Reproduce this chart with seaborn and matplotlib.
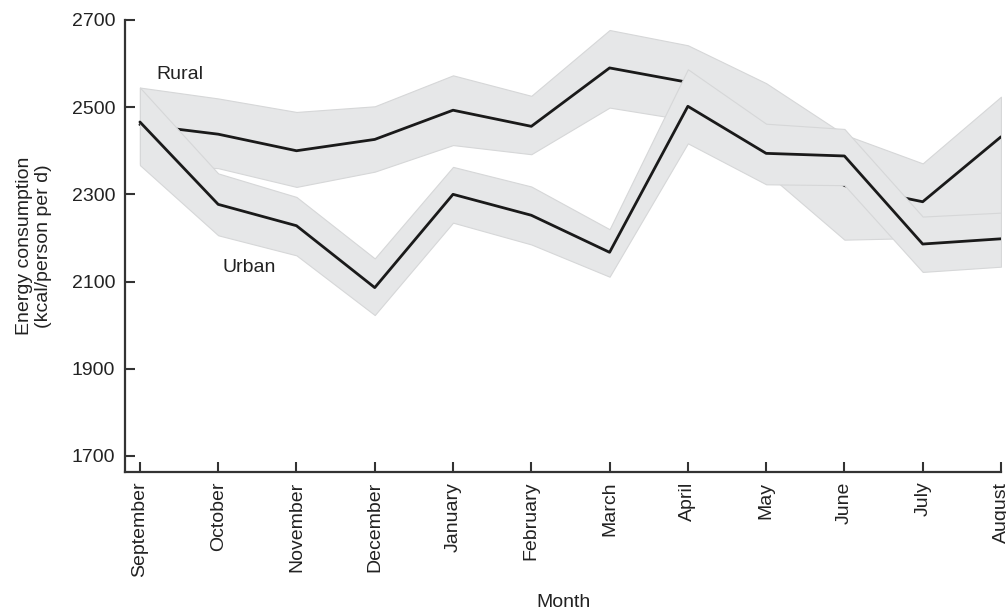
import numpy as np
import pandas as pd
import seaborn as sns
import matplotlib
matplotlib.use("Agg")
import matplotlib.pyplot as plt

# ============================================================
# DATA
# ============================================================
months = ["September", "October", "November", "December", "January", "February",
          "March", "April", "May", "June", "July", "August"]

rural_mean = [2460, 2438, 2400, 2426, 2493, 2456, 2590, 2557, 2452, 2320, 2283, 2432]
rural_upper = [2545, 2520, 2489, 2502, 2573, 2526, 2677, 2642, 2555, 2437, 2371, 2524]
rural_lower = [2370, 2360, 2317, 2352, 2413, 2392, 2499, 2470, 2350, 2196, 2200, 2250]

urban_mean = [2466, 2277, 2228, 2086, 2300, 2252, 2167, 2502, 2394, 2388, 2186, 2198]
urban_upper = [2545, 2348, 2294, 2153, 2363, 2318, 2220, 2587, 2462, 2450, 2249, 2258]
urban_lower = [2367, 2206, 2160, 2023, 2235, 2185, 2111, 2417, 2323, 2321, 2122, 2134]

y_ticks = [1700, 1900, 2100, 2300, 2500, 2700]

# ============================================================
# STYLE
# ============================================================
sns.set_style("white")
plt.rcParams["font.family"] = ["Liberation Sans", "DejaVu Sans"]
plt.rcParams["font.size"] = 14

band_color = "#e6e7e8"
band_edge = "#d6d7d8"
line_color = "#1a1a1a"

df = pd.DataFrame({
    "x": np.arange(len(months)),
    "Month": months,
    "rural": rural_mean, "rural_lo": rural_lower, "rural_hi": rural_upper,
    "urban": urban_mean, "urban_lo": urban_lower, "urban_hi": urban_upper,
})

# ============================================================
# PLOT
# ============================================================
fig = plt.figure(figsize=(10.06, 6.11), dpi=100)
ax = fig.add_axes([0.1243, 0.2275, 0.8707, 0.7398])

# rural first, urban drawn on top
ax.fill_between(df["x"], df["rural_lo"], df["rural_hi"], facecolor=band_color,
                edgecolor=band_edge, linewidth=0.8, zorder=1)
sns.lineplot(data=df, x="x", y="rural", color=line_color, linewidth=2.0, ax=ax, zorder=2)
ax.fill_between(df["x"], df["urban_lo"], df["urban_hi"], facecolor=band_color,
                edgecolor=band_edge, linewidth=0.8, zorder=3)
sns.lineplot(data=df, x="x", y="urban", color=line_color, linewidth=2.0, ax=ax, zorder=4)

ax.text(0.51, 2576, "Rural", ha="center", va="center", fontsize=14, color="#222222")
ax.text(1.40, 2133, "Urban", ha="center", va="center", fontsize=14, color="#222222")

# axes
ax.set_xlim(-0.19, 11)
ax.set_ylim(1663, 2700)
ax.set_xticks(df["x"])
ax.set_xticklabels(months, rotation=90)
ax.set_yticks(y_ticks)

ax.tick_params(axis="both", which="major", bottom=True, left=True,
               direction="in", length=7, width=1.5, pad=7,
               colors="#333333", labelcolor="#222222", labelsize=14)

sns.despine(ax=ax)
for side in ["left", "bottom"]:
    ax.spines[side].set_linewidth(1.6)
    ax.spines[side].set_color("#333333")

ax.set_xlabel("Month", fontsize=14, labelpad=12, color="#222222")
ax.set_ylabel("Energy consumption\n(kcal/person per d)", fontsize=14, labelpad=14,
              color="#222222")

fig.savefig("out.png", dpi=100)
